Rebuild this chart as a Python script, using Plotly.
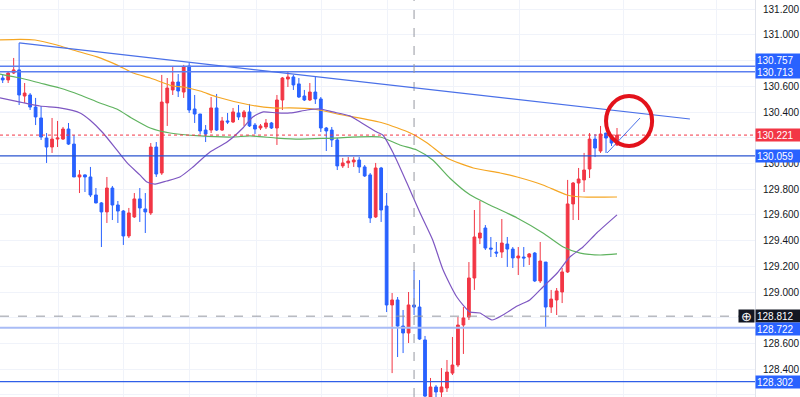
import plotly.graph_objects as go

# ---------------- data ----------------
bar_index = list(range(113))
open_ = [130.665,130.650,130.704,130.728,130.525,130.533,130.439,130.354,130.198,130.128,
         130.190,130.190,130.268,130.151,129.895,129.911,129.895,129.755,129.693,129.623,
         129.809,129.677,129.630,129.436,129.584,129.724,129.646,129.615,130.128,129.926,
         130.471,130.572,130.634,130.556,130.759,130.424,130.385,130.260,130.260,130.432,
         130.260,130.331,130.323,130.393,130.362,130.401,130.299,130.276,130.284,130.315,
         130.276,130.494,130.657,130.673,130.619,130.525,130.494,130.556,130.502,130.276,
         130.260,130.183,129.981,130.004,130.012,130.027,129.973,129.911,129.584,129.965,
         129.669,128.899,128.938,128.735,128.681,128.899,128.883,128.627,128.183,128.261,
         128.222,128.253,128.369,128.432,128.743,128.805,129.109,129.420,129.498,129.342,
         129.311,129.311,129.373,129.334,129.265,129.272,129.272,129.303,129.086,129.233,
         128.883,128.938,129.000,129.156,129.685,129.848,129.872,129.957,130.190,130.097,
         130.237,130.198,130.144]
high = [130.689,130.712,130.821,130.938,130.626,130.548,130.510,130.447,130.237,130.354,
        130.331,130.284,130.315,130.222,129.949,129.915,129.973,129.809,129.700,129.895,
        129.825,129.708,129.638,129.654,129.770,129.809,129.770,130.159,130.167,130.689,
        130.665,130.751,130.696,130.767,130.782,130.533,130.385,130.299,130.517,130.541,
        130.362,130.393,130.432,130.455,130.416,130.463,130.315,130.307,130.346,130.323,
        130.533,130.673,130.712,130.689,130.665,130.572,130.626,130.673,130.517,130.284,
        130.284,130.198,130.043,130.050,130.050,130.050,129.988,129.926,130.004,129.973,
        129.770,128.992,128.961,128.860,129.000,129.171,129.093,128.658,128.331,128.276,
        128.408,128.471,128.650,128.805,128.883,129.233,129.638,129.708,129.521,129.428,
        129.389,129.568,129.428,129.350,129.350,129.350,129.303,129.311,129.389,129.233,
        129.016,129.031,129.187,129.872,129.856,129.965,130.082,130.237,130.229,130.292,
        130.237,130.214,130.276]
low = [130.626,130.626,130.696,130.455,130.471,130.416,130.299,130.183,130.004,130.082,
       130.128,130.183,130.144,129.895,129.770,129.778,129.739,129.690,129.350,129.537,
       129.560,129.537,129.366,129.420,129.576,129.545,129.459,129.599,129.895,129.911,
       130.292,130.533,130.517,130.510,130.393,130.315,130.229,130.167,130.237,130.253,
       130.253,130.307,130.315,130.338,130.292,130.284,130.229,130.260,130.268,130.268,
       130.144,130.416,130.595,130.572,130.510,130.486,130.486,130.463,130.245,130.097,
       130.128,129.949,129.965,129.965,129.973,129.926,129.895,129.537,129.576,129.545,
       128.844,128.369,128.494,128.525,128.603,128.821,128.627,128.144,128.136,128.183,
       128.183,128.222,128.354,128.416,128.518,128.782,129.016,129.373,129.327,129.272,
       129.272,129.265,129.195,129.187,129.132,129.195,129.210,129.078,129.070,128.722,
       128.837,128.821,128.914,129.148,129.560,129.560,129.778,129.887,130.050,130.082,
       130.082,130.136,130.136]
close = [130.650,130.704,130.728,130.533,130.548,130.439,130.362,130.206,130.128,130.190,
         130.198,130.268,130.151,129.895,129.911,129.895,129.755,129.693,129.623,129.809,
         129.677,129.630,129.436,129.615,129.724,129.654,129.623,130.128,129.918,130.478,
         130.587,130.634,130.564,130.751,130.416,130.385,130.253,130.229,130.432,130.260,
         130.331,130.323,130.401,130.362,130.401,130.292,130.268,130.292,130.315,130.276,
         130.494,130.665,130.673,130.611,130.517,130.494,130.556,130.502,130.276,130.253,
         130.183,129.981,130.004,130.019,130.027,129.973,129.903,129.576,129.965,129.638,
         128.899,128.938,128.735,128.681,128.899,128.883,128.634,128.190,128.261,128.222,
         128.261,128.377,128.432,128.743,128.798,129.109,129.428,129.459,129.342,129.334,
         129.303,129.381,129.334,129.265,129.280,129.265,129.296,129.086,129.241,128.883,
         128.945,129.008,129.156,129.685,129.848,129.879,129.949,130.190,130.120,130.229,
         130.198,130.159,130.221]

# moving averages read at sample bars
ma_slow_x = [-0.5,3.2,5.9,9.9,12.8,17.2,20.8,23.8,26.9,31.0,32.9,36.0,39.1,45.1,49.3,52.4,
             56.6,62.0,69.3,74.3,77.4,81.0,85.8,90.7,93.8,98.5,102.9,105.8,112.0]
ma_slow_y = [130.961,130.965,130.961,130.922,130.883,130.829,130.767,130.704,130.665,130.603,
             130.595,130.564,130.517,130.455,130.432,130.432,130.424,130.377,130.315,130.237,
             130.159,130.043,129.965,129.926,129.895,129.833,129.755,129.739,129.739]
ma_mid_x = [-0.5,3.2,6.8,10.4,14.1,17.7,20.8,23.8,26.9,30.5,36.0,42.0,45.1,50.0,54.2,60.2,
            68.8,72.4,75.5,78.4,81.5,85.2,88.8,93.8,98.5,102.2,105.3,108.9,112.0]
ma_mid_y = [130.696,130.665,130.626,130.587,130.533,130.471,130.424,130.346,130.276,130.237,
            130.214,130.206,130.214,130.198,130.190,130.198,130.206,130.144,130.105,130.027,
            129.887,129.756,129.677,129.576,129.459,129.350,129.303,129.288,129.296]
ma_fast_x = [-0.5,3.2,6.8,10.4,14.1,15.9,18.3,20.8,22.7,25.0,26.3,27.8,29.9,32.3,34.7,37.8,
             40.9,43.8,45.6,47.5,50.0,52.4,55.5,57.8,60.2,63.3,64.6,68.2,69.3,71.2,73.7,
             76.1,78.4,80.3,82.8,85.2,87.0,89.2,91.2,93.8,96.1,98.5,101.1,103.4,105.8,
             108.3,112.0]
ma_fast_y = [130.510,130.478,130.447,130.432,130.393,130.338,130.237,130.105,130.004,129.911,
             129.856,129.840,129.864,129.895,129.973,130.089,130.167,130.276,130.362,130.401,
             130.393,130.393,130.416,130.424,130.401,130.370,130.338,130.245,130.222,130.082,
             129.848,129.615,129.405,129.171,128.961,128.844,128.837,128.782,128.821,128.891,
             128.938,129.039,129.148,129.272,129.350,129.459,129.600]

y_ticks = [128.2,128.4,128.6,128.8,129.0,129.2,129.4,129.6,129.8,130.0,
           130.2,130.4,130.6,130.8,131.0,131.2]
# tick labels hidden behind price labels in the reference are left blank
y_tick_labels = ["128.200","128.400","128.600","","129.000","129.200","129.400","129.600",
                 "129.800","130.000","","130.400","130.600","","131.000","131.200"]
time_grid = [10.1,22.1,34.1,46.2,58.2,70.2,82.1,94.3,113.1,130.2]

levels = [130.757,130.713,130.059,128.722,128.302]
last_price = 130.221
cross_bar = 75
cross_price = 128.812
trend_pts = [(3, 130.938), (125.3, 130.346)]
small_trend_pts = [(110.2, 130.082), (116.2, 130.354)]
circle_box = (110.0, 130.136, 118.4, 130.525)

# ---------------- figure ----------------
RED = "#f23645"
BLUE = "#2962ff"

fig = go.Figure()
fig.add_trace(go.Candlestick(
    x=bar_index, open=open_, high=high, low=low, close=close,
    increasing=dict(line=dict(color=RED, width=1), fillcolor=RED),
    decreasing=dict(line=dict(color=BLUE, width=1), fillcolor=BLUE),
    whiskerwidth=0, hoverinfo="skip", showlegend=False))

for xs, ys, col in [(ma_slow_x, ma_slow_y, "#f5a623"),
                    (ma_mid_x, ma_mid_y, "#5fb35f"),
                    (ma_fast_x, ma_fast_y, "#7e57c2")]:
    fig.add_trace(go.Scatter(x=xs, y=ys, mode="lines",
                             line=dict(color=col, width=1.2, shape="spline", smoothing=0.6),
                             hoverinfo="skip", showlegend=False))

shapes = []
level_styles = [("#5b7ff0", 1.5), ("#5b7ff0", 1.5), ("#2a55d0", 1.3),
                ("#a9bcf6", 2.2), ("#2f5fe8", 1.2)]
for lv, (c, w) in zip(levels, level_styles):
    shapes.append(dict(type="line", xref="paper", x0=0, x1=1, yref="y", y0=lv, y1=lv,
                       line=dict(color=c, width=w), layer="above"))
shapes.append(dict(type="line", xref="paper", x0=0, x1=1, yref="y", y0=last_price, y1=last_price,
                   line=dict(color=RED, width=1, dash="dot"), layer="above"))
shapes.append(dict(type="line", xref="x", x0=cross_bar, x1=cross_bar, yref="paper", y0=0, y1=1,
                   line=dict(color="#9598a1", width=1, dash="dash"), layer="above"))
shapes.append(dict(type="line", xref="paper", x0=0, x1=1, yref="y", y0=cross_price, y1=cross_price,
                   line=dict(color="#9598a1", width=1, dash="dash"), layer="above"))
for pts, w in [(trend_pts, 1.2), (small_trend_pts, 1)]:
    shapes.append(dict(type="line", xref="x", yref="y", x0=pts[0][0], y0=pts[0][1],
                       x1=pts[1][0], y1=pts[1][1], line=dict(color="#4a70e8", width=w),
                       layer="above"))
shapes.append(dict(type="circle", xref="x", yref="y", x0=circle_box[0], y0=circle_box[1],
                   x1=circle_box[2], y1=circle_box[3], line=dict(color="#e3121b", width=4),
                   layer="above"))

FONT = "Liberation Sans, Arial, sans-serif"
annotations = []
# (price, background, vertical nudge in px so stacked labels do not overlap)
label_specs = [(levels[0], BLUE, 6), (levels[1], BLUE, 0), (last_price, RED, 0),
               (levels[2], BLUE, 0), (cross_price, "#131722", 0), (levels[3], BLUE, -1),
               (levels[4], BLUE, 0)]
for price, bg, dy in label_specs:
    annotations.append(dict(x=1, xref="paper", y=price, yref="y", xanchor="left", yanchor="middle",
                            text=f"{price:.3f}", showarrow=False, align="left", yshift=dy,
                            font=dict(color="white", size=10, family=FONT),
                            bgcolor=bg, borderpad=1, width=43, height=10))
annotations.append(dict(x=1, xref="paper", y=cross_price, yref="y", xanchor="right", yanchor="middle",
                        text="⊕", showarrow=False, font=dict(color="white", size=13, family="DejaVu Sans"),
                        bgcolor="#131722", borderpad=0, width=15, height=12))

fig.update_layout(
    width=800, height=397, margin=dict(l=0, r=45, t=0, b=0, autoexpand=False),
    paper_bgcolor="white", plot_bgcolor="white",
    shapes=shapes, annotations=annotations, boxgap=0.28,
    xaxis=dict(range=[-0.49, 137.16], rangeslider=dict(visible=False), tickvals=time_grid,
               showticklabels=False, showgrid=True, gridcolor="#f0f3fa", zeroline=False,
               showline=False, automargin=False),
    yaxis=dict(range=[128.183, 131.272], side="right", tickvals=y_ticks,
               ticktext=y_tick_labels, showgrid=True, gridcolor="#f0f3fa",
               zeroline=False, showline=True, linecolor="#e0e3eb", linewidth=1,
               ticks="", ticklabelstandoff=5, automargin=False,
               tickfont=dict(size=10, color="#131722", family=FONT)),
)

fig.write_html("out.html", config={"displayModeBar": False},
               post_script="document.body.style.margin='0px';")
